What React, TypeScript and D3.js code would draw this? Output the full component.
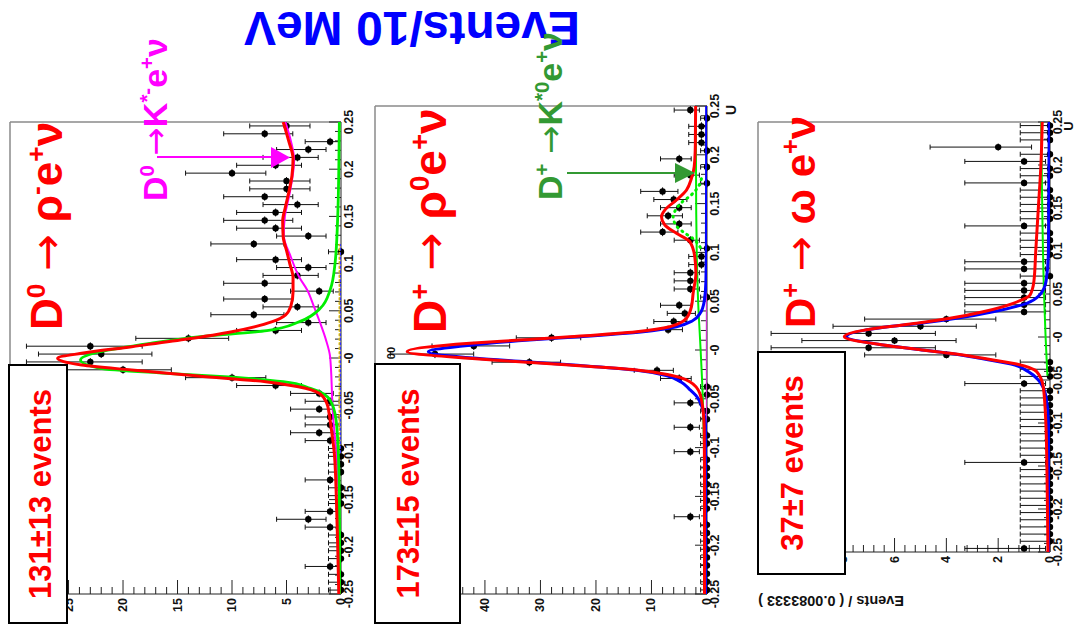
import React from "react";
import * as d3 from "d3";

const FONT = "'Liberation Sans', Arial, Helvetica, sans-serif";
const SYM = "'DejaVu Sans', sans-serif";

// U binning shared by the three fits
const U_DOMAIN: [number, number] = [-0.25, 0.25];
const BIN_COUNT = 60;
const U_TICKS = [-0.25, -0.2, -0.15, -0.1, -0.05, 0, 0.05, 0.1, 0.15, 0.2, 0.25];
const U_TICK_LABELS = ["-0.25", "-0.2", "-0.15", "-0.1", "-0.05", "-0", "0.05", "0.1", "0.15", "0.2", "0.25"];

// D0 -> rho- e+ nu
const RHO_MINUS_COUNTS = [
  0, 0, 0, 1, 0, 0, 0, 0, 1, 3,
  1, 0, 0, 0, 1, 0, 0, 0, 0, 1,
  2, 1, 1, 2, 1, 2, 6, 10, 20, 23,
  22, 23, 14, 6, 3, 8, 4, 7, 2, 7,
  4, 3, 6, 0, 8, 3, 6, 7, 6, 4,
  7, 5, 5, 10, 6, 4, 3, 1, 7, 5,
];
const RHO_MINUS_TOTAL: [number, number][] = [
  [-0.25, 0.2], [-0.2, 0.3], [-0.15, 0.42], [-0.1, 0.62], [-0.07, 0.95], [-0.058, 1.1], [-0.048, 1.3],
  [-0.0374, 2.0], [-0.0304, 3.9], [-0.0251, 6.9], [-0.0191, 13.1], [-0.0127, 19.2], [-0.0074, 23.8],
  [-0.0003, 26.0], [0.005, 23.8], [0.012, 19.2], [0.0198, 14.3], [0.0279, 10.0], [0.0385, 6.3],
  [0.0455, 5.1], [0.055, 4.6], [0.07, 4.4], [0.085, 4.4], [0.1, 4.7], [0.114, 5.0], [0.128, 5.3],
  [0.145, 5.35], [0.16, 5.1], [0.175, 4.8], [0.193, 4.5], [0.211, 4.4], [0.23, 4.8], [0.25, 5.3],
];
const RHO_MINUS_SIGNAL: [number, number][] = [
  [-0.25, 0.1], [-0.15, 0.15], [-0.1, 0.25], [-0.0657, 0.45], [-0.0445, 1.0], [-0.0321, 2.8],
  [-0.0251, 5.3], [-0.0204, 9.9], [-0.0162, 16.0], [-0.0109, 22.1], [-0.0021, 23.9], [0.0067, 22.1],
  [0.0156, 17.5], [0.0226, 12.9], [0.0289, 6.8], [0.0385, 3.8], [0.0526, 1.9], [0.072, 1.0],
  [0.1, 0.55], [0.15, 0.3], [0.2, 0.2], [0.25, 0.15],
];
const RHO_MINUS_KSTAR: [number, number][] = [
  [-0.25, 0.05], [-0.15, 0.2], [-0.1, 0.42], [-0.0657, 0.7], [-0.0445, 0.8], [0.0014, 1.0],
  [0.02, 1.4], [0.0368, 1.9], [0.055, 2.5], [0.072, 3.1], [0.085, 3.8], [0.107, 4.6], [0.13, 5.25],
  [0.15, 5.15], [0.175, 4.7], [0.21, 4.3], [0.23, 4.6], [0.25, 5.1],
];
const RHO_MINUS_BKG_A: [number, number][] = [[-0.1, 0.14], [0.12, 0.14]];
const RHO_MINUS_BKG_B: [number, number][] = [[-0.1, 0.05], [0.12, 0.05]];

// D+ -> rho0 e+ nu
const RHO_ZERO_COUNTS = [
  0, 0, 0, 0, 0, 0, 0, 0, 0, 3,
  0, 0, 0, 0, 0, 0, 0, 3, 0, 0,
  3, 0, 0, 3, 0, 0, 5, 9, 32, 49,
  42, 28, 7, 6, 4, 5, 0, 3, 3, 3,
  1, 1, 0, 3, 8, 5, 7, 5, 6, 8,
  0, 3, 0, 5, 0, 1, 1, 1, 0, 3,
];
const RHO_ZERO_TOTAL: [number, number][] = [
  [-0.25, 0.45], [-0.12, 0.45], [-0.08, 0.5], [-0.065, 0.65], [-0.0444, 1.3], [-0.0325, 3.1],
  [-0.0256, 6.7], [-0.0205, 12.7], [-0.0154, 24.8], [-0.012, 33.8], [-0.0085, 42.9], [-0.0017, 54.0],
  [0.0069, 42.7], [0.0102, 33.7], [0.0136, 24.7], [0.0188, 12.7], [0.0239, 6.7], [0.0325, 3.7],
  [0.0444, 2.8], [0.0581, 2.5], [0.0786, 2.0], [0.0956, 2.2], [0.111, 3.1], [0.1196, 5.5],
  [0.1281, 7.6], [0.1366, 8.2], [0.1434, 7.6], [0.1537, 5.5], [0.1639, 3.7], [0.1759, 2.8],
  [0.1878, 2.3], [0.21, 2.1], [0.25, 2.05],
];
const RHO_ZERO_SIGNAL: [number, number][] = [
  [-0.25, 0.05], [-0.1, 0.1], [-0.075, 0.3], [-0.06, 0.8], [-0.048, 1.8], [-0.04, 3.2], [-0.033, 4.6],
  [-0.0265, 7.2], [-0.0205, 13.0], [-0.0154, 24.0], [-0.012, 32.5], [-0.0085, 41.5], [-0.0017, 50.2],
  [0.004, 44], [0.0102, 32], [0.0136, 23], [0.0188, 11.5], [0.0239, 5.5], [0.03, 2.6], [0.038, 1.2],
  [0.05, 0.5], [0.07, 0.2], [0.12, 0.1], [0.25, 0.06],
];
const RHO_ZERO_BKG: [number, number][] = [
  [-0.25, 0.3], [-0.1, 0.55], [-0.05, 0.75], [0, 1.15], [0.05, 1.6], [0.1, 1.85], [0.15, 1.95], [0.25, 2.0],
];
const RHO_ZERO_KSTAR: [number, number][] = [
  [0.105, 1.2], [0.114, 2.5], [0.121, 4.3], [0.127, 5.5], [0.137, 6.1], [0.142, 5.8], [0.151, 4.6],
  [0.159, 2.8], [0.168, 1.5], [0.178, 0.9],
];
const RHO_ZERO_OTHER: [number, number][] = [[-0.25, 0.05], [0.25, 0.1]];

// D+ -> omega e+ nu
const OMEGA_COUNTS = [
  1, 0, 0, 0, 0, 0, 0, 0, 0, 0,
  0, 0, 1, 0, 0, 0, 0, 0, 0, 0,
  0, 0, 0, 1, 0, 0, 0, 4, 7, 6,
  7, 5, 4, 1, 1, 1, 1, 1, 0, 1,
  1, 0, 0, 0, 0, 1, 0, 0, 0, 0,
  0, 1, 0, 0, 1, 0, 2, 0, 0, 0,
];
const OMEGA_TOTAL: [number, number][] = [
  [-0.25, 0.08], [-0.15, 0.12], [-0.1, 0.16], [-0.0578, 0.26], [-0.0403, 0.51], [-0.0314, 1.29],
  [-0.0248, 2.58], [-0.019, 3.86], [-0.0143, 5.15], [-0.0093, 6.44], [0.0003, 7.94], [0.0113, 6.44],
  [0.0159, 5.15], [0.0217, 3.86], [0.0294, 2.58], [0.0392, 1.42], [0.0488, 0.77], [0.065, 0.62],
  [0.1, 0.55], [0.15, 0.45], [0.2, 0.35], [0.25, 0.3],
];
const OMEGA_SIGNAL: [number, number][] = [
  [-0.25, 0.02], [-0.1, 0.06], [-0.07, 0.15], [-0.05, 0.45], [-0.04, 0.85], [-0.0314, 1.5],
  [-0.0248, 2.7], [-0.019, 3.9], [-0.0143, 5.15], [-0.0093, 6.44], [0.0003, 7.85], [0.0113, 6.4],
  [0.0159, 5.0], [0.0217, 3.6], [0.0294, 2.2], [0.0392, 0.9], [0.0488, 0.4], [0.065, 0.15],
  [0.1, 0.06], [0.25, 0.03],
];
const OMEGA_BKG: [number, number][] = [[-0.045, 0.1], [0, 0.17], [0.05, 0.23], [0.15, 0.3], [0.25, 0.34]];

// events-axis labels
const RHO_MINUS_EVENT_TICKS = [0, 5, 10, 15, 20, 25];
const RHO_ZERO_EVENT_TICKS = [0, 10, 20, 30, 40, 50];
const OMEGA_EVENT_TICKS = [0, 2, 4, 6, 8, 10];

type Seg = { t: string; sup?: boolean; sym?: boolean };
const NB = "\u00a0";

function spans(segs: Seg[], size: number) {
  let raised = false;
  const shift = size * 0.38;
  return segs.map((s, i) => {
    let dy = 0;
    if (s.sup && !raised) {
      dy = -shift;
      raised = true;
    } else if (!s.sup && raised) {
      dy = shift;
      raised = false;
    }
    return (
      <tspan
        key={i}
        dy={dy || undefined}
        fontSize={s.sup ? size * 0.6 : undefined}
        fontFamily={s.sym ? SYM : undefined}
        fontWeight={s.sym ? "normal" : undefined}
      >
        {s.t}
      </tspan>
    );
  });
}

// asymmetric Poisson 68% interval for a bin count
function poissonInterval(n: number): [number, number] {
  if (n === 0) return [0, 1.148];
  const c = (m: number, z: number) => m * Math.pow(1 - 1 / (9 * m) + z / (3 * Math.sqrt(m)), 3);
  return [c(n, -1), c(n + 1, 1)];
}

type Curve = { pts: [number, number][]; color: string; width: number; dash?: string };

type PanelCfg = {
  id: string;
  xZero: number;
  xLeft: number;
  eventsMax: number;
  yTop: number;
  yBot: number;
  major: number;
  minor: number;
  eventTicks: number[];
  counts: number[];
  curves: Curve[];
};

function Panel({ cfg }: { cfg: PanelCfg }) {
  const x = d3.scaleLinear().domain([0, cfg.eventsMax]).range([cfg.xZero, cfg.xLeft]);
  const y = d3.scaleLinear().domain(U_DOMAIN).range([cfg.yBot, cfg.yTop]);
  const w = (U_DOMAIN[1] - U_DOMAIN[0]) / BIN_COUNT;
  const line = d3
    .line<[number, number]>()
    .x((d) => x(d[1]))
    .y((d) => y(d[0]))
    .curve(d3.curveMonotoneY);

  const minorEvents = d3.range(0, cfg.eventsMax + 1e-9, cfg.minor);
  const minorU = d3.range(0, 51).map((i) => -0.25 + i * 0.01);
  const clipId = `clip-${cfg.id}`;

  return (
    <g>
      <defs>
        <clipPath id={clipId}>
          <rect x={cfg.xLeft} y={cfg.yTop} width={cfg.xZero - cfg.xLeft} height={cfg.yBot - cfg.yTop} />
        </clipPath>
      </defs>
      {/* frame */}
      <line x1={cfg.xLeft} x2={cfg.xZero} y1={cfg.yTop} y2={cfg.yTop} stroke="#8a8a8a" strokeWidth={1.5} />
      <line x1={cfg.xLeft} x2={cfg.xLeft} y1={cfg.yTop} y2={cfg.yBot} stroke="#8a8a8a" strokeWidth={1.5} />
      {/* U axis */}
      <line x1={cfg.xZero} x2={cfg.xZero} y1={cfg.yTop} y2={cfg.yBot} stroke="#222" strokeWidth={1} />
      {minorU.map((u, i) => {
        const isMajor = Math.abs(Math.round(u * 20) - u * 20) < 1e-6;
        return (
          <line key={i} x1={cfg.xZero} x2={cfg.xZero - (isMajor ? 12 : 6)} y1={y(u)} y2={y(u)} stroke="#222" strokeWidth={1} />
        );
      })}
      {U_TICKS.map((u, i) => (
        <text
          key={i}
          transform={`translate(${cfg.xZero + 3},${y(u)}) rotate(-90)`}
          textAnchor="middle"
          dominantBaseline="hanging"
          fontFamily={FONT}
          fontWeight="bold"
          fontSize={12.5}
          fill="#111"
        >
          {U_TICK_LABELS[i]}
        </text>
      ))}
      {/* events axis */}
      <line x1={cfg.xLeft} x2={cfg.xZero} y1={cfg.yBot} y2={cfg.yBot} stroke="#222" strokeWidth={1} />
      {minorEvents.map((v, i) => {
        const isMajor = Math.abs(Math.round(v / cfg.major) - v / cfg.major) < 1e-6;
        return (
          <line key={i} x1={x(v)} x2={x(v)} y1={cfg.yBot} y2={cfg.yBot - (isMajor ? 14 : 7)} stroke="#222" strokeWidth={1} />
        );
      })}
      {cfg.eventTicks.map((v, i) => (
        <text
          key={i}
          transform={`translate(${x(v)},${cfg.yBot + 4}) rotate(-90)`}
          textAnchor="end"
          dominantBaseline="central"
          fontFamily={FONT}
          fontWeight="bold"
          fontSize={12.5}
          fill="#111"
        >
          {v}
        </text>
      ))}
      {/* data points */}
      <g>
        {cfg.counts.map((n, i) => {
          const u = U_DOMAIN[0] + (i + 0.5) * w;
          const [lo, hi] = poissonInterval(n);
          const cy = y(u);
          return (
            <g key={i} stroke="#111" strokeWidth={1}>
              <line x1={x(lo)} x2={x(hi)} y1={cy} y2={cy} />
              <line x1={x(lo)} x2={x(lo)} y1={cy - 2.5} y2={cy + 2.5} />
              <line x1={x(hi)} x2={x(hi)} y1={cy - 2.5} y2={cy + 2.5} />
              <line x1={x(n)} x2={x(n)} y1={y(u - w / 2)} y2={y(u + w / 2)} />
              <circle cx={x(n)} cy={cy} r={3.2} fill="#000" stroke="none" />
            </g>
          );
        })}
      </g>
      {/* fit curves */}
      <g clipPath={`url(#${clipId})`}>
        {cfg.curves.map((c, i) => (
          <path
            key={i}
            d={line(c.pts) || ""}
            fill="none"
            stroke={c.color}
            strokeWidth={c.width}
            strokeDasharray={c.dash}
            strokeLinecap={c.dash ? "round" : "butt"}
          />
        ))}
      </g>
    </g>
  );
}

const PANELS: PanelCfg[] = [
  {
    id: "rhoMinus",
    xZero: 341,
    xLeft: 10,
    eventsMax: 30.37,
    yTop: 122,
    yBot: 594,
    major: 5,
    minor: 1,
    eventTicks: RHO_MINUS_EVENT_TICKS,
    counts: RHO_MINUS_COUNTS,
    curves: [
      { pts: RHO_MINUS_BKG_A, color: "#f2d000", width: 2, dash: "1.5,3" },
      { pts: RHO_MINUS_BKG_B, color: "#3030ff", width: 1.5, dash: "1.5,3" },
      { pts: RHO_MINUS_KSTAR, color: "#ff00ff", width: 2 },
      { pts: RHO_MINUS_SIGNAL, color: "#00ee00", width: 2.8 },
      { pts: RHO_MINUS_TOTAL, color: "#ff0000", width: 3 },
    ],
  },
  {
    id: "rhoZero",
    xZero: 707,
    xLeft: 375,
    eventsMax: 59.8,
    yTop: 106,
    yBot: 594,
    major: 10,
    minor: 2,
    eventTicks: RHO_ZERO_EVENT_TICKS,
    counts: RHO_ZERO_COUNTS,
    curves: [
      { pts: RHO_ZERO_OTHER, color: "#cc33cc", width: 1.5 },
      { pts: RHO_ZERO_BKG, color: "#00ee00", width: 2 },
      { pts: RHO_ZERO_KSTAR, color: "#00ee00", width: 3, dash: "1,5" },
      { pts: RHO_ZERO_SIGNAL, color: "#0000ff", width: 3 },
      { pts: RHO_ZERO_TOTAL, color: "#ff0000", width: 3 },
    ],
  },
  {
    id: "omega",
    xZero: 1050,
    xLeft: 758,
    eventsMax: 11.27,
    yTop: 122,
    yBot: 552,
    major: 2,
    minor: 0.4,
    eventTicks: OMEGA_EVENT_TICKS,
    counts: OMEGA_COUNTS,
    curves: [
      { pts: OMEGA_BKG, color: "#00ee00", width: 2 },
      { pts: OMEGA_SIGNAL, color: "#0000ff", width: 3 },
      { pts: OMEGA_TOTAL, color: "#ff0000", width: 3 },
    ],
  },
];

const TITLE_RHO_MINUS: Seg[] = [
  { t: "D" }, { t: "0", sup: true }, { t: NB }, { t: "\u2192", sym: true }, { t: NB },
  { t: "\u03c1" }, { t: "-", sup: true }, { t: "e" }, { t: "+", sup: true }, { t: "\u03bd" },
];
const TITLE_RHO_ZERO: Seg[] = [
  { t: "D" }, { t: "+", sup: true }, { t: NB }, { t: "\u2192", sym: true }, { t: NB },
  { t: "\u03c1" }, { t: "0", sup: true }, { t: "e" }, { t: "+", sup: true }, { t: "\u03bd" },
];
const TITLE_OMEGA: Seg[] = [
  { t: "D" }, { t: "+", sup: true }, { t: NB }, { t: "\u2192", sym: true }, { t: NB },
  { t: "\u03c9" }, { t: NB }, { t: "e" }, { t: "+", sup: true }, { t: "\u03bd" },
];
const NOTE_KSTAR_MINUS: Seg[] = [
  { t: "D" }, { t: "0", sup: true }, { t: NB }, { t: "\u2192", sym: true },
  { t: "K" }, { t: "*-", sup: true }, { t: "e" }, { t: "+", sup: true }, { t: "\u03bd" },
];
const NOTE_KSTAR_ZERO: Seg[] = [
  { t: "D" }, { t: "+", sup: true }, { t: NB }, { t: "\u2192", sym: true },
  { t: "K" }, { t: "*0", sup: true }, { t: "e" }, { t: "+", sup: true }, { t: "\u03bd" },
];

function Rotated({ x, y, size, color, segs }: { x: number; y: number; size: number; color: string; segs: Seg[] }) {
  return (
    <text
      transform={`translate(${x},${y}) rotate(-90)`}
      fontFamily={FONT}
      fontWeight="bold"
      fontSize={size}
      fill={color}
    >
      {spans(segs, size)}
    </text>
  );
}

function YieldBox({ x0, x1, y0, y1, tx, label }: { x0: number; x1: number; y0: number; y1: number; tx: number; label: string }) {
  return (
    <g>
      <rect x={x0} y={y0} width={x1 - x0} height={y1 - y0} fill="#fff" stroke="#000" strokeWidth={2} />
      <text
        transform={`translate(${tx},${(y0 + y1) / 2}) rotate(-90)`}
        textAnchor="middle"
        fontFamily={FONT}
        fontWeight="bold"
        fontSize={31}
        fill="#ff0000"
      >
        {label}
      </text>
    </g>
  );
}

export default function App() {
  return (
    <svg
      width={1077}
      height={629}
      viewBox="0 0 1077 629"
      style={{ position: "absolute", left: 0, top: 0, background: "#fff" }}
    >
      <rect x={0} y={0} width={1077} height={629} fill="#fff" />
      <text
        transform="translate(412,12) rotate(180)"
        textAnchor="middle"
        fontFamily={FONT}
        fontWeight="bold"
        fontSize={48}
        fill="#0000ff"
      >
        Events/10 MeV
      </text>

      {PANELS.map((p) => (
        <Panel key={p.id} cfg={p} />
      ))}

      {/* axis titles */}
      <text transform="translate(726,110) rotate(-90)" textAnchor="middle" dominantBaseline="hanging" fontFamily={FONT} fontWeight="bold" fontSize={14} fill="#111">U</text>
      <text transform="translate(1063,126) rotate(-90)" textAnchor="middle" dominantBaseline="hanging" fontFamily={FONT} fontWeight="bold" fontSize={13} fill="#111">U</text>
      <text transform="translate(391,353) rotate(-90)" textAnchor="middle" dominantBaseline="central" fontFamily={FONT} fontWeight="bold" fontSize={11} fill="#111">00</text>
      <text transform="translate(831,596) rotate(180)" textAnchor="middle" fontFamily={FONT} fontWeight="bold" fontSize={14.5} fill="#111">
        Events / ( 0.0083333 )
      </text>

      {/* decay titles */}
      <Rotated x={62} y={330} size={44} color="#ff0000" segs={TITLE_RHO_MINUS} />
      <Rotated x={446} y={333} size={46} color="#ff0000" segs={TITLE_RHO_ZERO} />
      <Rotated x={815} y={328} size={42} color="#ff0000" segs={TITLE_OMEGA} />

      {/* background annotations */}
      <Rotated x={167} y={201} size={34} color="#ff00ff" segs={NOTE_KSTAR_MINUS} />
      <line x1={157} x2={272} y1={157} y2={157} stroke="#ff00ff" strokeWidth={2} />
      <polygon points="271,147 271,168 290,157.5" fill="#ff00ff" />
      <Rotated x={562} y={200} size={34} color="#339933" segs={NOTE_KSTAR_ZERO} />
      <line x1={567} x2={676} y1={173} y2={173} stroke="#339933" strokeWidth={2} />
      <polygon points="675,163 675,183 695,173" fill="#339933" />

      {/* yields */}
      <YieldBox x0={9} x1={67} y0={365} y1={623} tx={51} label="131±13 events" />
      <YieldBox x0={375} x1={460} y0={364} y1={623} tx={419} label="173±15 events" />
      <YieldBox x0={758} x1={845} y0={352} y1={574} tx={803} label="37±7 events" />
    </svg>
  );
}
